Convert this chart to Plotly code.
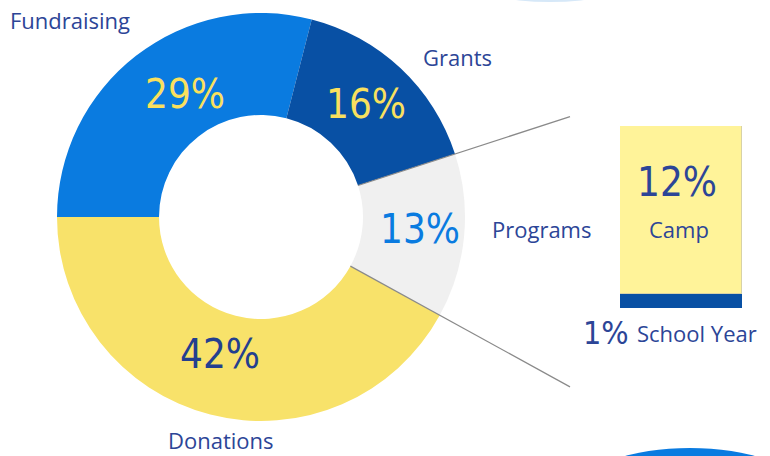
import math
import plotly.graph_objects as go

W, H = 770, 456

# ---- data ----
categories = ["Fundraising", "Grants", "Programs", "Donations"]
shares = [29, 16, 13, 42]
pct_labels = ["29%", "16%", "13%", "42%"]
slice_colors = ["#0a7be0", "#0850a4", "#f0f0f0", "#f8e26a"]
pct_colors = ["#f9e05e", "#f9e05e", "#0a7be0", "#233f8f"]

sub_categories = ["School Year", "Camp"]
sub_shares = [1, 12]
sub_pct_labels = ["1%", "12%"]
sub_colors = ["#0850a4", "#fff399"]

LABEL = "#2c4597"
LABEL_FONT = "Open Sans, Noto Sans, sans-serif"
HAND_FONT = "Liberation Sans Narrow, DejaVu Sans Condensed, sans-serif"

# pie geometry in pixels
cx, cy, R = 261, 217, 204
hole = 0.5
start_deg = 270  # 9 o'clock, clockwise


def px(x):
    return x / W


def py(y):
    return 1 - y / H


fig = go.Figure()

fig.add_trace(go.Pie(
    labels=categories, values=shares, sort=False, direction="clockwise",
    rotation=start_deg, hole=hole,
    marker=dict(colors=slice_colors, line=dict(width=0)),
    textinfo="none", hoverinfo="label+percent", showlegend=False,
    domain=dict(x=[px(cx - R), px(cx + R)], y=[py(cy + R), py(cy - R)]),
))

# stacked bar for Programs breakdown
for name, v, c in zip(sub_categories, sub_shares, sub_colors):
    fig.add_trace(go.Bar(
        x=[0], y=[v], name=name, width=[1], marker=dict(color=c,
        line=dict(color="#d8d2a6" if name == "Camp" else c, width=1)),
        xaxis="x2", yaxis="y2", showlegend=False, hoverinfo="name+y",
    ))

bar_top, bar_bot, bar_l, bar_r = 126, 308, 620, 742
layout_axes = dict(
    xaxis2=dict(domain=[px(bar_l), px(bar_r)], range=[-0.5, 0.5], visible=False,
                fixedrange=True),
    yaxis2=dict(domain=[py(bar_bot), py(bar_top)], range=[0, sum(sub_shares)],
                visible=False, fixedrange=True, anchor="x2"),
    xaxis3=dict(domain=[0, 1], range=[0, W], visible=False, fixedrange=True),
    yaxis3=dict(domain=[0, 1], range=[H, 0], visible=False, fixedrange=True,
                anchor="x3"),
)

shapes = []
# connector lines along slice boundaries
cum = 0
bounds = []
for i, v in enumerate(shares):
    cum += v
    bounds.append(cum / sum(shares))
for frac in (bounds[1], bounds[2]):
    th = math.radians(start_deg + 360 * frac)
    dx, dy = math.sin(th), -math.cos(th)
    r0 = R * hole
    x0, y0 = cx + r0 * dx, cy + r0 * dy
    t = (570 - x0) / dx
    shapes.append(dict(type="line", xref="x3", yref="y3", x0=x0, y0=y0,
                       x1=x0 + t * dx, y1=y0 + t * dy,
                       line=dict(color="#8a8a8a", width=1.2)))

# decorative blue blobs at the edges
shapes.append(dict(type="circle", xref="x3", yref="y3", x0=470, y0=-40,
                   x1=630, y1=2, fillcolor="#d6e8f8", line=dict(width=0),
                   layer="below"))
shapes.append(dict(type="circle", xref="x3", yref="y3", x0=582, y0=448,
                   x1=798, y1=528, fillcolor="#0a7be0", line=dict(width=0),
                   layer="below"))

ann = []


def add_text(x, y, text, size, color, font, xanchor="center"):
    ann.append(dict(x=px(x), y=py(y), xref="paper", yref="paper", text=text,
                    showarrow=False, xanchor=xanchor, yanchor="middle",
                    font=dict(size=size, color=color, family=font)))


# category labels
add_text(8, 20, categories[0], 22, LABEL, LABEL_FONT, xanchor="left")
add_text(457, 57, categories[1], 22, LABEL, LABEL_FONT)
add_text(541, 229, categories[2], 22, LABEL, LABEL_FONT)
add_text(221, 440, categories[3], 22, LABEL, LABEL_FONT)

# percentages in slices
pct_pos = [(185, 94), (366, 104), (420, 229), (220, 354)]
for (x, y), t, c in zip(pct_pos, pct_labels, pct_colors):
    add_text(x, y, t, 40, c, HAND_FONT)

# bar labels
add_text(677, 182, sub_pct_labels[1], 40, LABEL, HAND_FONT)
add_text(679, 229, sub_categories[1], 22, LABEL, LABEL_FONT)
add_text(606, 333, sub_pct_labels[0], 32, LABEL, HAND_FONT)
add_text(635, 333, sub_categories[0], 22, LABEL, LABEL_FONT, xanchor="left")

fig.update_layout(
    width=W, height=H, margin=dict(l=0, r=0, t=0, b=0),
    paper_bgcolor="white", plot_bgcolor="rgba(0,0,0,0)",
    barmode="stack", bargap=0, shapes=shapes, annotations=ann,
    **layout_axes,
)
fig.add_trace(go.Scatter(x=[None], y=[None], xaxis="x3", yaxis="y3",
                         showlegend=False, hoverinfo="skip"))

fig.write_html(
    "out.html",
    config={"displayModeBar": False},
    post_script="document.body.style.margin='0';document.body.style.overflow='hidden';",
)
